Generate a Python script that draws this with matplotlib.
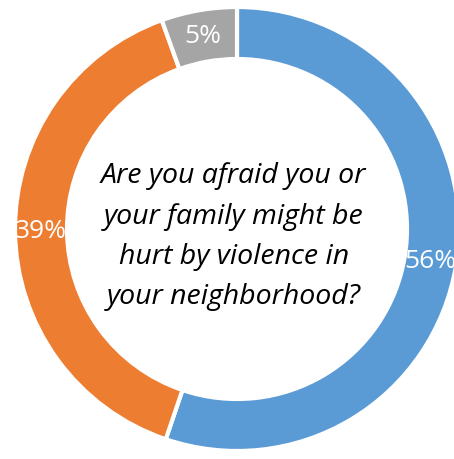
import matplotlib
matplotlib.use("Agg")
import matplotlib.pyplot as plt

# donut data (arc sizes, labels as printed on the chart)
labels = ["56%", "39%", "5%"]
values = [55.2, 39.3, 5.5]
colors = ["#5B9BD5", "#ED7D31", "#A5A5A5"]
question = "Are you afraid you or\nyour family might be\nhurt by violence in\nyour neighborhood?"

W, H = 454, 460
fig = plt.figure(figsize=(W / 100, H / 100), dpi=100)
fig.patch.set_facecolor("white")

# ring centre at (237, 230) px from top-left, outer radius 222 px
cx, cy, R = 237, 230, 222
ax = fig.add_axes([(cx - R) / W, (H - cy - R) / H, 2 * R / W, 2 * R / H])
ring = 52 / R

wedges, texts = ax.pie(values, colors=colors, startangle=90, counterclock=False,
                       radius=1, labels=labels, labeldistance=1 - ring / 2,
                       wedgeprops=dict(width=ring, edgecolor="white", linewidth=3),
                       textprops=dict(color="white", fontsize=19, family="Open Sans"))
for t in texts:
    t.set_horizontalalignment("center")
    t.set_verticalalignment("center")
for w in wedges:
    w.set_clip_on(False)

ax.text(-0.015, -0.03, question, ha="center", va="center", fontsize=20.5,
        style="italic", family="Open Sans", linespacing=1.58, color="black")

ax.set_xlim(-1, 1)
ax.set_ylim(-1, 1)
ax.set_aspect("equal")
ax.axis("off")

fig.savefig("out.png", dpi=100, facecolor="white")
